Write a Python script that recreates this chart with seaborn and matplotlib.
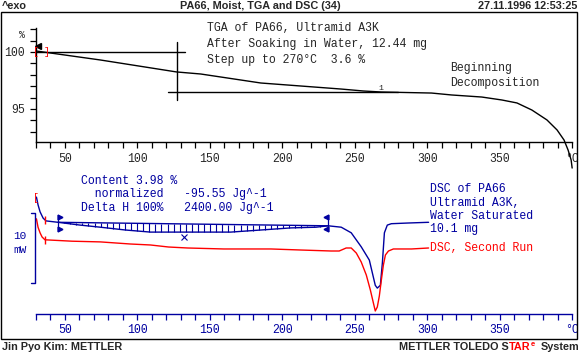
import numpy as np
import matplotlib
matplotlib.use("Agg")
import matplotlib.pyplot as plt
import seaborn as sns
from matplotlib.patches import Rectangle
from matplotlib.ticker import FixedLocator, MultipleLocator

# TGA curve, weight in %
tga_temp = [30.0, 74.4, 127.0, 143.7, 185.2, 240.7, 255.9, 268.4, 303.0, 316.9,
            337.7, 351.6, 362.0, 372.3, 382.7, 389.7, 394.5, 397.3, 399.4, 400.1]
tga_pct = [100.09, 99.30, 98.25, 98.07, 97.28, 96.75, 96.58, 96.49, 96.40, 96.23,
           96.05, 95.79, 95.53, 94.91, 94.04, 93.16, 92.28, 91.40, 90.53, 89.82]

# DSC first run (water saturated), heat flow in mW (offset arbitrary)
dsc1_temp = [30.3, 31.4, 32.8, 34.9, 36.9, 45.2, 60.5, 74.4, 91.7, 109.0, 143.7,
             164.4, 178.3, 206.0, 223.3, 231.7, 240.7, 247.6, 254.5, 260.1, 264.2,
             265.6, 267.7, 269.1, 270.5, 272.5, 275.3, 287.1, 301.0]
dsc1_mw = [16.7, 15.6, 14.6, 13.7, 13.3, 13.1, 12.7, 12.4, 12.0, 11.7, 11.7,
           11.7, 11.9, 12.3, 12.4, 12.6, 12.4, 11.6, 9.6, 7.7, 4.1,
           3.7, 4.1, 7.3, 11.6, 12.7, 12.9, 13.0, 13.1]

# DSC second run
dsc2_temp = [30.3, 31.4, 32.8, 34.2, 36.2, 54.9, 74.4, 95.1, 109.0, 121.5, 134.6,
             159.6, 192.2, 212.9, 233.7, 239.3, 244.1, 247.6, 251.1, 254.5, 258.0,
             260.8, 262.9, 264.2, 265.6, 267.0, 268.4, 269.8, 271.2, 273.3, 276.7,
             289.2, 301.0]
dsc2_mw = [13.6, 12.4, 11.6, 11.0, 10.6, 10.4, 10.3, 10.0, 9.86, 9.57, 9.43,
           9.29, 9.29, 9.14, 9.0, 9.0, 9.43, 9.43, 8.71, 7.43, 5.57,
           3.43, 1.57, 0.43, 1.0, 2.57, 4.86, 7.0, 8.43, 9.0, 9.29,
           9.29, 9.43]

# step evaluation on TGA
tga_level_start = 100.0
tga_level_end = 96.45
# integration limits on first DSC run
int_start = 45.2
int_end = 231.7

x_ticks = [50, 100, 150, 200, 250, 300, 350, 400]
x_ticklabels = ['50', '100', '150', '200', '250', '300', '350', '°C']

NAVY = '#0000A0'
RED = '#FF0000'
MONO = 'Liberation Mono'
FS = 8.3

sns.set_style('ticks')
plt.rcParams['font.family'] = [MONO, 'DejaVu Sans']

W, H = 579, 354
fig = plt.figure(figsize=(W / 100, H / 100), dpi=100)


def rect(l, t, r, b):
    return [l / W, 1 - b / H, (r - l) / W, (b - t) / H]


def px(x, y):
    return x / W, 1 - y / H


ax1 = fig.add_axes(rect(36, 28, 572, 142))
ax2 = fig.add_axes(rect(36, 170, 572, 314))
for ax in (ax1, ax2):
    ax.patch.set_alpha(0)
    for s in ('top', 'right'):
        ax.spines[s].set_visible(False)

# ---- TGA ----
sns.lineplot(x=tga_temp, y=tga_pct, ax=ax1, color='black', lw=1.0, estimator=None)
ax1.lines[-1].set_clip_on(False)
ax1.set_ylim(92.105, 102.105)
ax1.yaxis.set_major_locator(FixedLocator([95, 100]))
ax1.yaxis.set_minor_locator(MultipleLocator(1))
for s in ('left', 'bottom'):
    ax1.spines[s].set_color('black')
    ax1.spines[s].set_linewidth(1.0)
ax1.tick_params(which='both', direction='out', length=4, width=0.9, color='black',
                labelsize=FS, pad=4)

# step construction lines
ax1.plot([30, 132.6], [tga_level_start] * 2, color='black', lw=1.0)
ax1.plot([127, 127], [100.9, 95.8], color='black', lw=1.0)
ax1.plot([120.8, 280.2], [tga_level_end] * 2, color='black', lw=1.0)
ax1.text(268.0, tga_level_end + 0.05, '1', fontsize=6, ha='center', va='bottom')
ax1.plot([31.6], [100.55], marker='<', color='black', ms=4, clip_on=False)
ax1.text(30.2, 100.0, '[', color=RED, fontsize=7, ha='center', va='center')
ax1.text(37.6, 100.0, ']', color=RED, fontsize=7, ha='center', va='center')

fig.text(*px(22, 35), '%', fontsize=7, ha='center', va='center')
fig.text(*px(207, 28), 'TGA of PA66, Ultramid A3K', fontsize=FS, va='center')
fig.text(*px(207, 44), 'After Soaking in Water, 12.44 mg', fontsize=FS, va='center')
fig.text(*px(207, 60), 'Step up to 270°C  3.6 %', fontsize=FS, va='center')
fig.text(*px(450, 68), 'Beginning', fontsize=FS, va='center')
fig.text(*px(450, 83), 'Decomposition', fontsize=FS, va='center')

# ---- DSC ----
sns.lineplot(x=dsc1_temp, y=dsc1_mw, ax=ax2, color=NAVY, lw=1.0, estimator=None)
sns.lineplot(x=dsc2_temp, y=dsc2_mw, ax=ax2, color=RED, lw=1.0, estimator=None)
ax2.set_ylim(0, 144 / 7)
ax2.spines['left'].set_visible(False)
ax2.spines['bottom'].set_color(NAVY)
ax2.spines['bottom'].set_linewidth(1.0)
ax2.set_yticks([])
ax2.tick_params(which='both', direction='out', length=4, width=0.9, color=NAVY,
                labelcolor=NAVY, labelsize=FS, pad=3)

for ax in (ax1, ax2):
    ax.set_xlim(30, 400)
    ax.xaxis.set_major_locator(FixedLocator(x_ticks))
    ax.xaxis.set_minor_locator(MultipleLocator(10))
    ax.set_xticklabels(x_ticklabels)
    ax.set_xlabel('')
    ax.set_ylabel('')

# integration baseline and hatching
b0 = np.interp(int_start, dsc1_temp, dsc1_mw)
b1 = np.interp(int_end, dsc1_temp, dsc1_mw)
ax2.plot([int_start, int_end], [b0, b1], color=NAVY, lw=1.0)
ht = np.arange(int_start, int_end, 4.2)
ax2.vlines(ht, np.interp(ht, dsc1_temp, dsc1_mw),
           np.interp(ht, [int_start, int_end], [b0, b1]), color=NAVY, lw=0.8)
for t, m in ((int_start, '>'), (int_end, '<')):
    ax2.plot([t, t], [b0 - 1.3, b0 + 1.0], color=NAVY, lw=0.9)
    ax2.plot([t + (1.2 if m == '>' else -1.2)] * 2, [b0 + 0.75, b0 - 1.0],
             ls='none', marker=m, color=NAVY, ms=3.5)
ax2.plot([131.9], [11.0], marker='x', color=NAVY, ms=4, mew=0.8)

# red evaluation marks
ax2.text(30.0, 16.6, '[', color=RED, fontsize=7, ha='center', va='center')
ax2.plot([36.2], [13.4], marker='|', color=RED, ms=6, mew=1.0)
ax2.plot([36.2], [10.6], marker='|', color=RED, ms=6, mew=1.0)

# 10 mW scale bar
bar_lo = (314 - 283) / 7
ax2.plot([26.5, 29.4, 29.4, 26.5], [bar_lo + 10, bar_lo + 10, bar_lo, bar_lo],
         color=NAVY, lw=1.0, clip_on=False)
fig.text(*px(20, 236), '10', fontsize=8, color=NAVY, ha='center', va='center')
fig.text(*px(20, 250), 'mW', fontsize=8, color=NAVY, ha='center', va='center')

fig.text(*px(81, 181), 'Content 3.98 %', fontsize=FS, color=NAVY, va='center')
fig.text(*px(81, 194), '  normalized   -95.55 Jg^-1', fontsize=FS, color=NAVY, va='center')
fig.text(*px(81, 208), 'Delta H 100%   2400.00 Jg^-1', fontsize=FS, color=NAVY, va='center')
fig.text(*px(430, 189), 'DSC of PA66', fontsize=FS, color=NAVY, va='center')
fig.text(*px(430, 203), 'Ultramid A3K,', fontsize=FS, color=NAVY, va='center')
fig.text(*px(430, 216), 'Water Saturated', fontsize=FS, color=NAVY, va='center')
fig.text(*px(430, 229), '10.1 mg', fontsize=FS, color=NAVY, va='center')
fig.text(*px(430, 248), 'DSC, Second Run', fontsize=FS, color=RED, va='center')

# ---- frame, header, footer ----
fig.patches.append(Rectangle(px(1, 339), 576 / W, 327 / H, transform=fig.transFigure,
                             fill=False, ec='black', lw=1.0))
hdr = dict(fontsize=7.8, fontweight='bold', family=['Liberation Sans', 'DejaVu Sans'])
fig.text(*px(2, 6), '^exo', ha='left', va='center', **hdr)
fig.text(*px(260, 6), 'PA66, Moist, TGA and DSC (34)', ha='center', va='center', **hdr)
fig.text(*px(577, 6), '27.11.1996 12:53:25', ha='right', va='center', **hdr)
fig.text(*px(2, 347), 'Jin Pyo Kim: METTLER', ha='left', va='center', **hdr)

# footer logo, pieces chained left to right
base = fig.text(*px(399, 347), 'METTLER TOLEDO S', ha='left', va='center', **hdr)
tar = plt.annotate('TAR', xy=(1, 0.5), xycoords=base, ha='left', va='center',
                   color=RED, annotation_clip=False, **hdr)
plt.annotate('e', xy=(1, 1.05), xycoords=tar, xytext=(0.6, 0),
             textcoords='offset points', ha='left', va='top', color=RED,
             fontsize=5.5, fontweight='bold', family=['Liberation Sans', 'DejaVu Sans'],
             annotation_clip=False)
plt.annotate('System', xy=(1, 0.5), xycoords=tar, xytext=(7.5, 0),
             textcoords='offset points', ha='left', va='center',
             annotation_clip=False, **hdr)

fig.savefig('out.png', dpi=100)
